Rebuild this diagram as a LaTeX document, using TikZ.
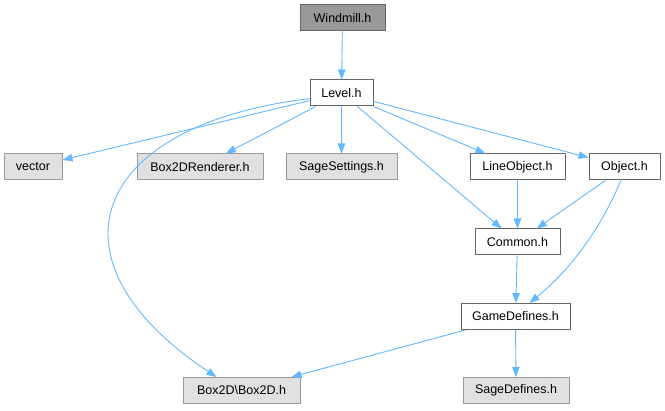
\documentclass[tikz,border=0pt]{standalone}
\usepackage{fontspec}
\setmainfont{Liberation Sans}
\definecolor{EdgeBlue}{HTML}{63B8FF}
\definecolor{RootFill}{HTML}{999999}
\definecolor{SysFill}{HTML}{E0E0E0}
\usetikzlibrary{arrows.meta, calc}

\begin{document}
\begin{tikzpicture}[x=1pt, y=-1pt, >={Triangle[length=10pt, width=7.5pt]},
    file/.style={draw=black!60, fill=white, line width=1pt, minimum height=26pt,
      inner sep=0pt, font=\fontsize{12.5}{14}\selectfont},
    root/.style={file, fill=RootFill},
    sys/.style={file, draw=black!40, fill=SysFill},
    dep/.style={->, EdgeBlue, line width=0.9pt}]
  \useasboundingbox (0,0) rectangle (665,411);
  % header files
  \node[root, minimum width=85pt] (wind) at (342.5,18) {Windmill.h};
  \node[file, minimum width=63pt] (lvl) at (341.5,93) {Level.h};
  \node[sys, minimum width=58pt] (vec) at (33,167) {vector};
  \node[sys, minimum width=126pt] (rend) at (200,167) {Box2DRenderer.h};
  \node[sys, minimum width=111pt] (sset) at (341.5,167) {SageSettings.h};
  \node[file, minimum width=95pt] (lobj) at (517.5,167) {LineObject.h};
  \node[file, minimum width=71pt] (obj) at (624.5,167) {Object.h};
  \node[file, minimum width=85pt] (com) at (517.5,242) {Common.h};
  \node[file, minimum width=109pt] (gdef) at (515.5,316.5) {GameDefines.h};
  \node[sys, minimum width=117pt] (b2d) at (241.5,390.5) {Box2D\textbackslash Box2D.h};
  \node[sys, minimum width=106pt] (sdef) at (516,390.5) {SageDefines.h};
  % includes
  \draw[dep] (wind) -- (lvl);
  \draw[dep] (lvl) -- (vec);
  \draw[dep] (lvl) -- (rend);
  \draw[dep] (lvl) -- (sset);
  \draw[dep] (lvl) -- (lobj);
  \draw[dep] (lvl) -- (obj);
  \draw[dep] (lvl) -- (com);
  \draw[dep] (lvl.190) .. controls (90,125) and (40,260) .. ($(b2d.north)+(-25,0)$);
  \draw[dep] (lobj) -- (com);
  \draw[dep] (obj) -- (com);
  \draw[dep] (obj.255) .. controls (600,230) and (570,270) .. ($(gdef.north)+(14,0)$);
  \draw[dep] (com) -- (gdef);
  \draw[dep] (gdef) -- (b2d);
  \draw[dep] (gdef) -- (sdef);
\end{tikzpicture}
\end{document}
